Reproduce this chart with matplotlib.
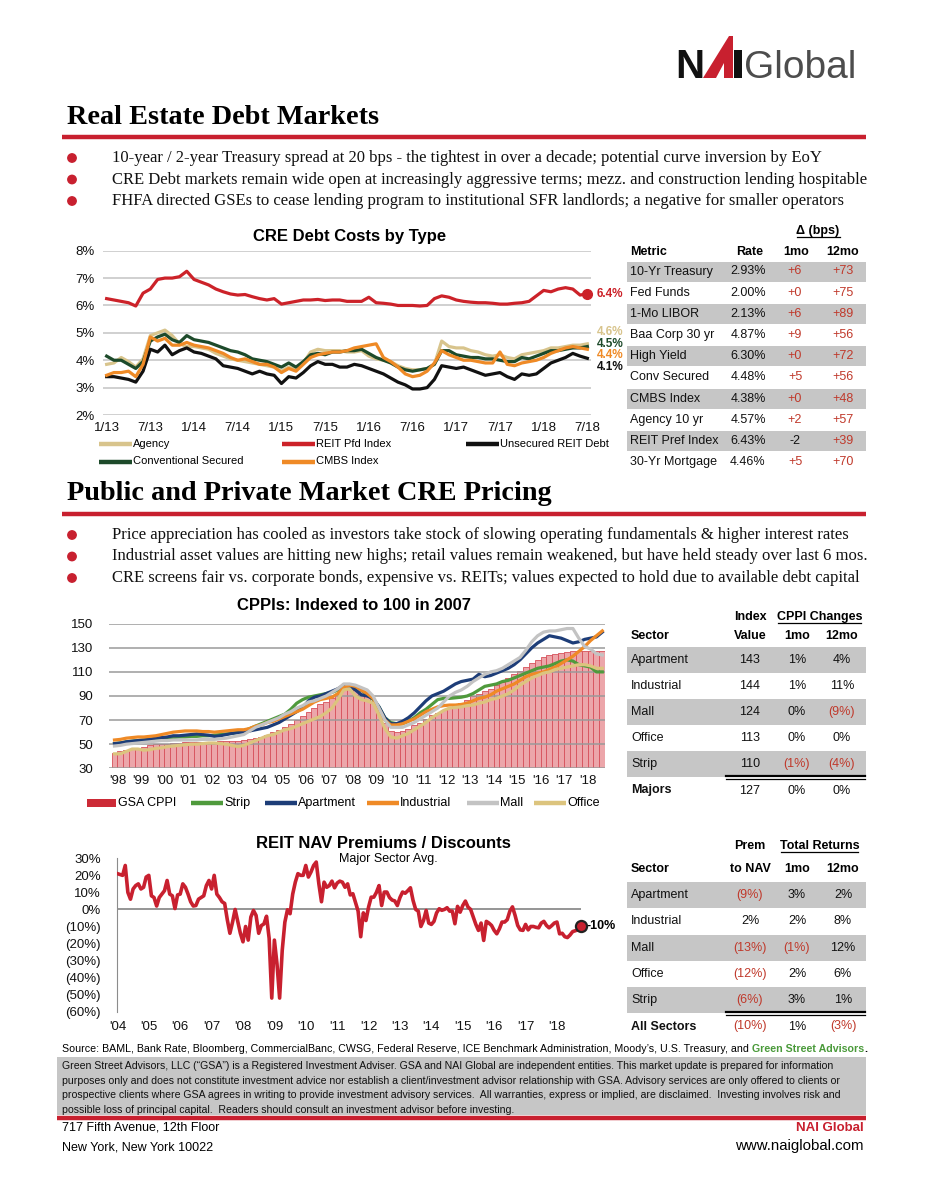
import matplotlib
matplotlib.use('Agg')
import matplotlib.pyplot as plt
from matplotlib import font_manager
from matplotlib.patches import Rectangle, Circle, Polygon

W, H = 927, 1200

fams = {f.name for f in font_manager.fontManager.ttflist}
SANS = 'Liberation Sans' if 'Liberation Sans' in fams else 'DejaVu Sans'
SERIF = 'Liberation Serif' if 'Liberation Serif' in fams else 'DejaVu Serif'
plt.rcParams['font.family'] = SANS

RED = '#c8202f'
NEG = '#c0392b'
BAND = '#c6c6c6'

# ---------------- data: CRE debt costs (monthly, 1/13 .. 7/18) ----------------
debt_ticks = ['1/13', '7/13', '1/14', '7/14', '1/15', '7/15', '1/16', '7/16',
              '1/17', '7/17', '1/18', '7/18']
agency = [3.85, 3.9, 4.1, 3.95, 3.75, 4.05, 4.9, 5.0, 5.1, 4.9,
          4.6, 4.5, 4.5, 4.45, 4.4, 4.25, 4.15, 4.05, 4.0, 3.95,
          3.9, 3.85, 3.8, 3.75, 3.6, 3.75, 3.65, 3.9, 4.3, 4.4,
          4.35, 4.35, 4.35, 4.3, 4.3, 4.35, 4.15, 4.05, 4.0, 3.95,
          3.8, 3.7, 3.65, 3.65, 3.7, 3.85, 4.7, 4.5, 4.45, 4.45,
          4.35, 4.3, 4.2, 4.15, 4.2, 4.1, 4.05, 4.2, 4.25, 4.3,
          4.35, 4.45, 4.45, 4.5, 4.55, 4.55, 4.6]
reit_pfd = [6.25, 6.2, 6.15, 6.1, 5.98, 6.45, 6.6, 6.95, 7.0, 7.0,
            7.05, 7.25, 6.95, 6.85, 6.75, 6.6, 6.5, 6.42, 6.38, 6.4,
            6.32, 6.25, 6.2, 6.25, 6.05, 6.1, 6.15, 6.2, 6.2, 6.22,
            6.18, 6.2, 6.2, 6.15, 6.15, 6.15, 6.3, 6.1, 6.08, 6.05,
            6.0, 6.0, 6.0, 5.98, 6.0, 6.25, 6.35, 6.3, 6.2, 6.15,
            6.12, 6.1, 6.1, 6.08, 6.05, 6.05, 6.08, 6.1, 6.15, 6.35,
            6.55, 6.5, 6.6, 6.65, 6.6, 6.38, 6.43]
unsecured = [3.4, 3.4, 3.35, 3.3, 3.2, 3.6, 4.4, 4.3, 4.55, 4.2,
             4.35, 4.45, 4.3, 4.25, 4.15, 4.05, 3.8, 3.75, 3.7, 3.6,
             3.5, 3.6, 3.5, 3.45, 3.15, 3.4, 3.35, 3.55, 3.8, 3.95,
             3.85, 3.85, 3.75, 3.75, 3.85, 3.8, 3.7, 3.6, 3.5, 3.35,
             3.2, 3.1, 2.95, 2.95, 3.0, 3.3, 3.8, 3.75, 3.7, 3.75,
             3.65, 3.55, 3.45, 3.5, 3.55, 3.4, 3.3, 3.5, 3.45, 3.5,
             3.7, 3.9, 4.0, 4.1, 4.25, 4.15, 4.07]
conv_secured = [4.15, 4.0, 4.0, 3.85, 3.7, 3.95, 4.7, 4.85, 4.95, 4.75,
                4.65, 4.9, 4.75, 4.7, 4.65, 4.55, 4.45, 4.35, 4.3, 4.2,
                4.05, 4.0, 3.95, 3.85, 3.75, 3.9, 3.75, 3.95, 4.2, 4.25,
                4.2, 4.3, 4.3, 4.35, 4.35, 4.4, 4.25, 4.1, 4.0, 3.9,
                3.75, 3.65, 3.6, 3.65, 3.7, 3.85, 4.35, 4.35, 4.2, 4.15,
                4.1, 4.1, 4.05, 4.05, 4.0, 3.95, 3.95, 4.1, 4.05, 4.15,
                4.25, 4.35, 4.35, 4.4, 4.45, 4.45, 4.5]
cmbs = [3.45, 3.55, 3.55, 3.6, 3.4, 3.85, 4.85, 4.7, 4.8, 4.55,
        4.55, 4.65, 4.55, 4.5, 4.45, 4.35, 4.25, 4.1, 4.0, 4.05,
        3.95, 3.85, 3.85, 3.75, 3.55, 3.7, 3.6, 3.85, 4.1, 4.2,
        4.25, 4.3, 4.3, 4.35, 4.45, 4.5, 4.55, 4.6, 4.1, 3.95,
        3.75, 3.5, 3.4, 3.45, 3.6, 3.9, 4.35, 4.2, 4.1, 4.0,
        4.0, 3.95, 3.9, 3.9, 4.3, 3.85, 3.8, 3.9, 3.95, 4.0,
        4.1, 4.25, 4.35, 4.45, 4.5, 4.45, 4.4]

debt_table_metric = ['10-Yr Treasury', 'Fed Funds', '1-Mo LIBOR', 'Baa Corp 30 yr',
                     'High Yield', 'Conv Secured', 'CMBS Index', 'Agency 10 yr',
                     'REIT Pref Index', '30-Yr Mortgage']
debt_table_rate = ['2.93%', '2.00%', '2.13%', '4.87%', '6.30%', '4.48%', '4.38%',
                   '4.57%', '6.43%', '4.46%']
debt_table_1mo = ['+6', '+0', '+6', '+9', '+0', '+5', '+0', '+2', '-2', '+5']
debt_table_12mo = ['+73', '+75', '+89', '+56', '+72', '+56', '+48', '+57', '+39', '+70']

# ---------------- data: CPPI (quarterly, Q4 1997 .. Q3 2018) ----------------
cppi_years = ["'%02d" % (y % 100) for y in range(1998, 2019)]
gsa_cppi = [43,
            44, 45, 46, 47, 48, 49, 50, 50, 50.5, 51, 51, 51.5, 51.5, 52, 52, 52,
            52, 52.5, 53, 53, 53, 53.5, 54, 55, 56, 58, 60, 62, 64, 67, 70, 73,
            77, 80, 83, 85, 88, 92, 97, 100, 97, 94, 90, 86, 78, 68, 61, 60,
            61, 63, 66, 68, 71, 74, 76, 78, 80, 82, 84, 87, 90, 92, 94, 96,
            99, 102, 105, 108, 111, 114, 117, 120, 122, 124, 125, 126,
            126.5, 127, 127, 127, 127, 127, 127]
apartment = [50.5,
             51, 52, 52.5, 53, 53.5, 54, 55, 55.5, 56, 57, 57, 57.5, 58, 58.5, 58, 57.5,
             56.5, 57, 58, 59, 59.5, 60, 61, 62, 63, 64, 66, 68, 71, 74, 77, 80,
             86, 89, 90, 92, 94, 96, 99, 98, 95, 91, 90, 88, 81, 72, 67, 67,
             69, 72, 76, 81, 86, 90, 92, 94, 97, 100, 102, 103, 104, 108, 106, 107,
             109, 111, 113, 116, 120, 125, 130, 134, 137, 140, 139, 138,
             136, 134, 135, 137, 138, 139, 143]
industrial = [53.5,
              54, 55, 55.5, 56, 56, 56.5, 57, 58, 59, 60, 60.5, 61, 61, 61, 60.5, 60.5,
              60, 60.5, 61, 61.5, 62, 62, 63, 65, 66, 68, 69, 71, 73, 75, 77, 79,
              82, 85, 87, 88, 89, 92, 97, 99, 98, 95, 92, 88, 79, 70, 66, 66,
              67, 69, 71, 74, 77, 79, 81, 82, 82.5, 82.5, 83, 84, 86, 88, 89, 91,
              94, 96, 98, 100, 103, 106, 108, 109, 110, 112, 114, 117,
              120, 123, 127, 131, 136, 140, 144]
strip = [50.5,
         51, 52, 52.5, 53, 53.5, 54, 54.5, 55, 55, 55.5, 56, 56, 56.5, 56.5, 57, 57,
         57.5, 58, 58.5, 59, 60, 61, 63, 65, 67, 69, 71, 73, 75, 79, 84, 87,
         89, 90, 91, 92, 93, 95, 99, 99, 98, 95, 91, 87, 81, 72, 68, 67,
         67, 69, 72, 76, 79, 83, 87, 88, 88, 88.5, 89, 90, 92, 95, 98, 99,
         100, 102, 103, 105, 107, 109, 111, 113, 114, 115, 117, 119,
         120, 119, 116, 115, 114, 110, 110]
mall = [48.5,
        49, 50, 50.5, 51, 51.5, 52, 52.5, 53, 53, 53.5, 53.5, 53.5, 53.5, 53.5, 54, 54,
        54, 54.5, 55, 56, 57, 58, 61, 64, 66, 68, 70, 72, 75, 77, 80, 82,
        85, 86, 88, 90, 93, 96, 100, 100, 99, 97, 95, 90, 80, 70, 64, 64,
        64, 66, 68, 71, 74, 77, 80, 85, 90, 93, 95, 98, 102, 105, 108, 110,
        111, 113, 116, 119, 122, 128, 135, 140, 143, 144, 144, 145,
        146, 146, 138, 131, 129, 125, 124]
office = [42,
          42, 44, 46, 46, 45, 45.5, 46.5, 47, 48, 48.5, 49, 49.5, 50, 50, 50.5, 51,
          51, 50.5, 50, 49, 48, 49, 51, 53, 55, 57, 58, 60, 62, 63, 65, 67,
          69, 71, 73, 76, 80, 87, 95, 96, 90, 87, 86, 84, 74, 63, 56, 55,
          57, 59, 62, 65, 68, 72, 75, 78, 80, 80.5, 81, 82, 82.5, 84, 85, 87,
          88, 90, 92, 95, 99, 102, 105, 107, 109, 110, 112, 113,
          114, 115, 116, 116, 115, 113, 113]

cppi_sector = ['Apartment', 'Industrial', 'Mall', 'Office', 'Strip', 'Majors']
cppi_value = ['143', '144', '124', '113', '110', '127']
cppi_1mo = ['1%', '1%', '0%', '0%', '(1%)', '0%']
cppi_12mo = ['4%', '11%', '(9%)', '0%', '(4%)', '0%']

# ---------------- data: REIT NAV premium (monthly, Jan 04 .. Oct 18) ----------------
nav_years = ["'%02d" % (y % 100) for y in range(2004, 2019)]
nav_prem = [21, 20.5, 20, 25.8, 10, 6, 12, 14, 15, 12, 13, 19,
            20, 8, 7, 2, 7, 9, 11, 17, 9, 8, 0.5, 8.5,
            9, 15, 13, 9, 4.5, 2, 2.3, 6, 7, 8, 14, 17,
            12, 20, 9, 7, 4.5, 3.5, -6, -14, -7.5, 0, -7, -14,
            -19, -10, -18, -4.5, -0.6, -3.5, -14, -9.5, -8.5, -4, -17, -52,
            -18, -32, -52, -24, -7.5, -0.2, -2.5, 9, 16, 21, 20, 20,
            25.8, 19, 22, 25.8, 27.8, 15, 4.5, 16, 13, 14, 16.6, 12.7,
            15.5, 16.6, 16, 13, 15, 8.5, 9.2, 4, -1, -16, -2, -6.5,
            1.4, 7.2, 7.2, 10, 14, 2.3, 10.2, 10.2, 7, 5.5, 5, 2.3,
            7, 10.2, 9.5, 11, 12.7, 5.3, 0, -1, -10, -6.5, -0.6, -8,
            -8.8, -7, -2, 0.4, -0.5, 0, 1, -1, -1, -8.4, 1.8, -1.6,
            2.3, 4.9, 1.4, 0, -4.5, -8.8, -12.3, -8, -18.2, -7, -8, -9.4,
            -12.3, -14.3, -11.4, -7.4, -7.4, -6, -1, 1.5, -3.5, -9.4, -12, -12.3,
            -8.8, -12, -10, -10, -10.5, -10.8, -8, -7, -9.4, -10.8, -9.5, -8,
            -7.4, -14.3, -14, -16, -16.5, -15, -13, -12.5, -12, -10]

nav_sector = ['Apartment', 'Industrial', 'Mall', 'Office', 'Strip', 'All Sectors']
nav_to_nav = ['(9%)', '2%', '(13%)', '(12%)', '(6%)', '(10%)']
nav_1mo = ['3%', '2%', '(1%)', '2%', '3%', '1%']
nav_12mo = ['2%', '8%', '12%', '6%', '1%', '(3%)']

bullets_debt = [
    '10-year / 2-year Treasury spread at 20 bps - the tightest in over a decade; potential curve inversion by EoY',
    'CRE Debt markets remain wide open at increasingly aggressive terms; mezz. and construction lending hospitable',
    'FHFA directed GSEs to cease lending program to institutional SFR landlords; a negative for smaller operators',
]
bullets_pricing = [
    'Price appreciation has cooled as investors take stock of slowing operating fundamentals & higher interest rates',
    'Industrial asset values are hitting new highs; retail values remain weakened, but have held steady over last 6 mos.',
    'CRE screens fair vs. corporate bonds, expensive vs. REITs; values expected to hold due to available debt capital',
]
disclaimer = [
    'Green Street Advisors, LLC (\u201cGSA\u201d) is a Registered Investment Adviser. GSA and NAI Global are independent entities. This market update is prepared for information',
    'purposes only and does not constitute investment advice nor establish a client/investment advisor relationship with GSA. Advisory services are only offered to clients or',
    'prospective clients where GSA agrees in writing to provide investment advisory services.  All warranties, express or implied, are disclaimed.  Investing involves risk and',
    'possible loss of principal capital.  Readers should consult an investment advisor before investing.',
]


def frame(fig, x0, y0, x1, y1):
    ax = fig.add_axes([x0 / W, 1 - y1 / H, (x1 - x0) / W, (y1 - y0) / H])
    ax.set_facecolor('none')
    for s in ax.spines.values():
        s.set_visible(False)
    ax.tick_params(length=0, labelsize=9.5, colors='#111111')
    return ax


def section(page, y_title, title, bullets):
    page.text(67, y_title, title, family=SERIF, fontsize=20.3, fontweight='bold', va='center')
    page.plot([62, 866], [y_title + 20, y_title + 20], color=RED, lw=3.2, solid_capstyle='butt')
    for i, t in enumerate(bullets):
        y = y_title + 41 + 21.5 * i
        page.add_patch(Circle((72, y), 4.2, color=RED))
        page.text(112, y, t, family=SERIF, fontsize=12, va='center', color='#111111')


def table(page, y_rows, header_y, cols, rows, bold_last=False, dbl_y=None):
    for i, y in enumerate(y_rows):
        if i % 2 == 0 and not bold_last:
            page.add_patch(Rectangle((627, y - 10), 239, 20, color=BAND, lw=0))
    for x, ha, t in cols:
        page.text(x, header_y, t, ha=ha, va='center', fontsize=9, fontweight='bold')
    for i, y in enumerate(y_rows):
        for j, (x, ha, t) in enumerate(rows[i]):
            neg = t.startswith('(') or t.startswith('+')
            fw = 'bold' if (bold_last and i == len(y_rows) - 1 and j == 0) else 'normal'
            page.text(x, y, t, ha=ha, va='center', fontsize=9, fontweight=fw,
                      color=NEG if neg and j > 0 else '#111111')
    if dbl_y is not None:
        page.plot([726, 865], [dbl_y, dbl_y], color='black', lw=1.6)
        page.plot([726, 865], [dbl_y + 3, dbl_y + 3], color='black', lw=0.9)


def underline_header(page, x, y, text, x0, x1):
    page.text(x, y, text, ha='center', va='center', fontsize=9, fontweight='bold')
    page.plot([x0, x1], [y + 6, y + 6], color='black', lw=0.9)


fig = plt.figure(figsize=(W / 100, H / 100), dpi=100)
page = fig.add_axes([0, 0, 1, 1])
page.set_xlim(0, W)
page.set_ylim(H, 0)
page.axis('off')

# logo
page.text(675, 78, 'N', fontsize=29, fontweight='bold', color='#111111', va='baseline')
page.add_patch(Polygon([(703, 78), (729, 36), (733, 36), (733, 78)], color=RED, lw=0))
page.add_patch(Polygon([(716, 78), (724, 63), (724, 78)], color='white', lw=0))
page.add_patch(Rectangle((734, 50), 8, 28, color='#111111', lw=0))
page.text(744, 78, 'Global', fontsize=28, color='#4d4d4d', va='baseline')

section(page, 117, 'Real Estate Debt Markets', bullets_debt)
section(page, 494, 'Public and Private Market CRE Pricing', bullets_pricing)

# ---------------- chart 1 ----------------
page.text(350, 237, 'CRE Debt Costs by Type', ha='center', va='center', fontsize=12, fontweight='bold')
ax1 = frame(fig, 103, 250.7, 591, 415)
months = list(range(len(reit_pfd)))
series1 = [(agency, '#d8c48c', 'Agency'), (conv_secured, '#1d4a2a', 'Conventional Secured'),
           (unsecured, '#111111', 'Unsecured REIT Debt'), (cmbs, '#ef8a26', 'CMBS Index'),
           (reit_pfd, '#cc2229', 'REIT Pfd Index')]
for vals, c, lab in series1:
    ax1.plot(months, vals, color=c, lw=2.3, zorder=3, solid_joinstyle='round')
ax1.plot(months[-1], reit_pfd[-1], 'o', ms=7, color='#cc2229', zorder=4, clip_on=False)
ax1.set_xlim(-0.5, len(months) - 0.5)
ax1.set_ylim(2, 8)
ax1.set_yticks(range(2, 9))
ax1.set_yticklabels(['%d%%' % v for v in range(2, 9)])
ax1.set_xticks(range(0, len(months), 6))
ax1.set_xticklabels(debt_ticks)
ax1.yaxis.grid(True, color='#c4c4c4', lw=1.1)
ax1.tick_params(axis='y', pad=6)
ax1.tick_params(axis='x', pad=5)
end_pos = {'REIT Pfd Index': 6.43, 'Agency': 5.02, 'Conventional Secured': 4.6,
           'CMBS Index': 4.18, 'Unsecured REIT Debt': 3.76}
for vals, c, lab in series1:
    ax1.text(len(months) + 0.25, end_pos[lab], '%.1f%%' % vals[-1], color=c, fontsize=8.5,
             fontweight='bold', va='center', clip_on=False)
leg1 = [series1[0], series1[4], series1[2], series1[1], series1[3]]
for i, (vals, c, lab) in enumerate(leg1):
    x0 = 99 + 183.5 * (i % 3)
    y0 = 444 + 17.5 * (i // 3)
    page.plot([x0, x0 + 33], [y0, y0], color=c, lw=3.2, solid_capstyle='butt')
    page.text(x0 + 34, y0, lab, fontsize=8, va='center')

# table 1
rows1 = [[(630, 'left', m), (748, 'center', r), (795, 'center', a), (843, 'center', b)]
         for m, r, a, b in zip(debt_table_metric, debt_table_rate, debt_table_1mo, debt_table_12mo)]
table(page, [271.5 + 21.2 * i for i in range(10)], 252,
      [(630, 'left', 'Metric'), (750, 'center', 'Rate'), (796, 'center', '1mo'), (843, 'center', '12mo')],
      rows1)
underline_header(page, 818, 231, '\u0394 (bps)', 797, 840)

# ---------------- chart 2 ----------------
page.text(354, 605, 'CPPIs: Indexed to 100 in 2007', ha='center', va='center', fontsize=12, fontweight='bold')
ax2 = frame(fig, 108.5, 623.7, 605, 768.3)
qx = [1997.875 + 0.25 * i for i in range(len(gsa_cppi))]
ax2.bar(qx, gsa_cppi, width=0.25, color='#eca6aa', edgecolor='#d6505a', lw=0.6, zorder=1)
series2 = [(strip, '#4f9a3c', 'Strip'), (apartment, '#1d3d78', 'Apartment'),
           (industrial, '#ef8a26', 'Industrial'), (mall, '#c3c3c3', 'Mall'),
           (office, '#dcc47e', 'Office')]
for vals, c, lab in series2:
    ax2.plot(qx, vals, color=c, lw=2.3, zorder=4, solid_joinstyle='round')
ax2.set_xlim(1997.62, 2018.74)
ax2.set_ylim(30, 150)
ax2.set_yticks(range(30, 151, 20))
ax2.set_xticks(range(1998, 2019))
ax2.set_xticklabels(cppi_years)
ax2.set_axisbelow(False)
ax2.yaxis.grid(True, color='#9a9a9a', lw=1.1)
ax2.tick_params(axis='y', pad=11)
ax2.tick_params(axis='x', pad=5)
page.add_patch(Rectangle((87, 799), 29, 8, color='#cc2a36', lw=0))
page.text(118, 803, 'GSA CPPI', fontsize=9, va='center')
leg2_x = [191, 265, 367, 467, 534]
for x0, (vals, c, lab) in zip(leg2_x, series2):
    page.plot([x0, x0 + 32], [803, 803], color=c, lw=3.2, solid_capstyle='butt')
    page.text(x0 + 33, 803, lab, fontsize=9, va='center')

# table 2
rows2 = [[(631, 'left', s), (750, 'center', v), (797, 'center', a), (842, 'center', b)]
         for s, v, a, b in zip(cppi_sector, cppi_value, cppi_1mo, cppi_12mo)]
y2 = [660 + 26.1 * i for i in range(6)]
for i in (0, 2, 4):
    page.add_patch(Rectangle((627, y2[i] - 13), 239, 26, color=BAND, lw=0))
table(page, y2, 636,
      [(631, 'left', 'Sector'), (750, 'center', 'Value'), (797, 'center', '1mo'), (842, 'center', '12mo')],
      rows2, bold_last=True, dbl_y=775.7)
page.text(750, 617, 'Index', ha='center', va='center', fontsize=9, fontweight='bold')
underline_header(page, 819.5, 617, 'CPPI Changes', 778, 861)

# ---------------- chart 3 ----------------
page.text(383, 843, 'REIT NAV Premiums / Discounts', ha='center', va='center', fontsize=12, fontweight='bold')
page.text(388, 859, 'Major Sector Avg.', ha='center', va='center', fontsize=9)
ax3 = frame(fig, 117.4, 858.3, 580.5, 1011.7)
mx = [2004 + m / 12 for m in range(len(nav_prem))]
ax3.axhline(0, color='#8c8c8c', lw=1.3, zorder=1)
ax3.plot(mx, nav_prem, color='#c8202f', lw=2.6, zorder=3, solid_joinstyle='round')
ax3.plot(mx[-1], nav_prem[-1], 'o', ms=8, mfc='#c8202f', mec='#222222', mew=1.6, zorder=5, clip_on=False)
ax3.text(mx[-1] + 0.18, nav_prem[-1], '%d%%' % round(nav_prem[-1]), fontsize=9, fontweight='bold',
         va='center', clip_on=False)
ax3.set_xlim(2004, mx[-1])
ax3.set_ylim(-60, 30)
ax3.set_yticks(range(-60, 31, 10))
ax3.set_yticklabels(['%d%%' % v if v >= 0 else '(%d%%)' % -v for v in range(-60, 31, 10)])
ax3.set_xticks(range(2004, 2019))
ax3.set_xticklabels(nav_years)
ax3.spines['left'].set_visible(True)
ax3.spines['left'].set_color('#8c8c8c')
ax3.tick_params(axis='y', pad=12)
ax3.tick_params(axis='x', pad=7)

# table 3
rows3 = [[(631, 'left', s), (750, 'center', p), (797, 'center', a), (843, 'center', b)]
         for s, p, a, b in zip(nav_sector, nav_to_nav, nav_1mo, nav_12mo)]
y3 = [895 + 26.3 * i for i in range(6)]
for i in (0, 2, 4):
    page.add_patch(Rectangle((627, y3[i] - 13), 239, 26, color=BAND, lw=0))
table(page, y3, 869,
      [(631, 'left', 'Sector'), (750, 'center', 'to NAV'), (797, 'center', '1mo'), (843, 'center', '12mo')],
      rows3, bold_last=True, dbl_y=1011.7)
page.text(750, 846, 'Prem', ha='center', va='center', fontsize=9, fontweight='bold')
underline_header(page, 819.5, 846, 'Total Returns', 781, 858)

# ---------------- footer ----------------
src = page.text(62, 1049, 'Source: BAML, Bank Rate, Bloomberg, CommercialBanc, CWSG, Federal Reserve, '
                'ICE Benchmark Administration, Moody\u2019s, U.S. Treasury, and ',
                fontsize=7.7, va='center')
gsa = page.annotate('Green Street Advisors', xy=(1, 0.5), xycoords=src, va='center', ha='left',
                    fontsize=7.7, fontweight='bold', color='#4a9a3a')
page.annotate('.', xy=(1, 0.5), xycoords=gsa, va='center', ha='left', fontsize=7.7, fontweight='bold')
page.add_patch(Rectangle((57, 1057), 809, 58, color=BAND, lw=0))
for i, line in enumerate(disclaimer):
    page.text(62, 1066 + 14.6 * i, line, fontsize=7.6, va='center', color='#111111')
page.plot([57, 866], [1117.5, 1117.5], color=RED, lw=3.2, solid_capstyle='butt')
page.text(62, 1128, '717 Fifth Avenue, 12th Floor', fontsize=9, va='center')
page.text(62, 1147, 'New York, New York 10022', fontsize=9, va='center')
page.text(864, 1128, 'NAI Global', fontsize=9.5, fontweight='bold', color=RED, va='center', ha='right')
page.text(864, 1146, 'www.naiglobal.com', fontsize=10.8, va='center', ha='right')

fig.savefig('out.png', dpi=100)
